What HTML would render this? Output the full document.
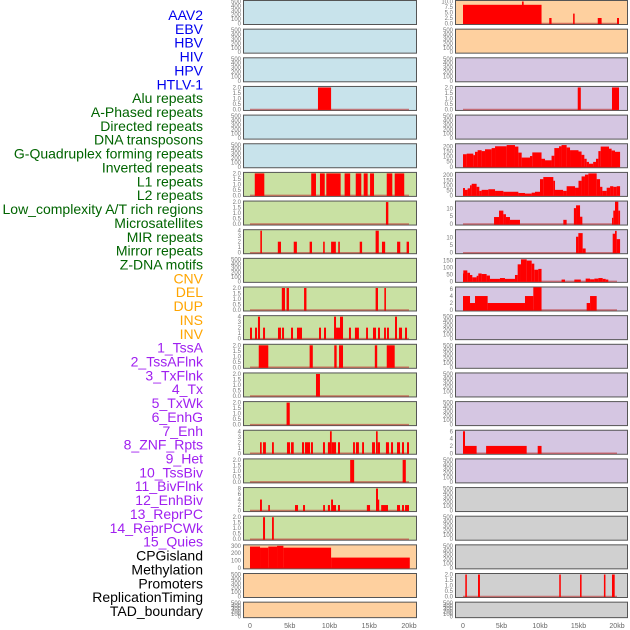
<!DOCTYPE html>
<html><head><meta charset="utf-8"><style>
html,body{margin:0;padding:0;background:#fff;}
svg{display:block;}
.lab{font-family:"Liberation Sans",sans-serif;font-size:14px;}
.tk{font-family:"Liberation Sans",sans-serif;font-size:6px;fill:#777;}
.xt{font-family:"Liberation Sans",sans-serif;font-size:7px;fill:#666;}
</style></head><body>
<svg id="chart" width="630" height="630" viewBox="0 0 630 630"></svg>
<script>
// ---------- labels ----------
const trackLabels = ["AAV2","EBV","HBV","HIV","HPV","HTLV-1","Alu repeats","A-Phased repeats","Directed repeats","DNA transposons","G-Quadruplex forming repeats","Inverted repeats","L1 repeats","L2 repeats","Low_complexity A/T rich regions","Microsatellites","MIR repeats","Mirror repeats","Z-DNA motifs","CNV","DEL","DUP","INS","INV","1_TssA","2_TssAFlnk","3_TxFlnk","4_Tx","5_TxWk","6_EnhG","7_Enh","8_ZNF_Rpts","9_Het","10_TssBiv","11_BivFlnk","12_EnhBiv","13_ReprPC","14_ReprPCWk","15_Quies","CPGisland","Methylation","Promoters","ReplicationTiming","TAD_boundary"];
const labelColors = ["#0000ee","#0000ee","#0000ee","#0000ee","#0000ee","#0000ee","#006400","#006400","#006400","#006400","#006400","#006400","#006400","#006400","#006400","#006400","#006400","#006400","#006400","#ffa500","#ffa500","#ffa500","#ffa500","#ffa500","#a020f0","#a020f0","#a020f0","#a020f0","#a020f0","#a020f0","#a020f0","#a020f0","#a020f0","#a020f0","#a020f0","#a020f0","#a020f0","#a020f0","#a020f0","#000","#000","#000","#000","#000"];
const xTickValues = [0,5,10,15,20];
const xTickLabels = ["0","5kb","10kb","15kb","20kb"];

// ---------- tick sets ----------
const T500 = [0,100,200,300,400,500], T500L = ["0","100","200","300","400","500"];
const T2 = [0,0.5,1,1.5,2], T2L = ["0.0","0.5","1.0","1.5","2.0"];
const T4 = [0,1,2,3,4], T4L = ["0","1","2","3","4"];
const T8 = [0,2,4,6,8], T8L = ["0","2","4","6","8"];
const T6 = [0,2,4,6], T6L = ["0","2","4","6"];
const T300 = [0,100,200,300], T300L = ["0","100","200","300"];
const T10 = [0,2.5,5,7.5,10], T10L = ["0.0","2.5","5.0","7.5","10.0"];
const T200 = [0,50,100,150,200], T200L = ["0","50","100","150","200"];
const T150 = [0,50,100,150], T150L = ["0","50","100","150"];
const T10b = [0,5,10], T10bL = ["0","5","10"];

// ---------- left column data (bars: [startKb, endKb, value]) ----------
const L3_bars = [[8.55,10.2,2]];
const L6_bars = [[0.6,1.8,2],[7.7,8.3,2],[8.8,9.4,2],[9.6,11.4,2],[11.9,12.6,2],[13.3,14.0,2],[14.3,14.8,2],[15.1,15.6,2],[17.2,17.9,2],[18.2,19.4,2]];
const L7_bars = [[17.1,17.4,2]];
const L8_bars = [[1.3,1.5,4],[3.5,3.9,2],[5.5,5.9,2],[7.5,7.8,2],[9.2,9.4,2],[10.2,10.8,2],[11.1,11.3,2],[13.8,14.1,2],[15.8,16.2,4],[16.6,17.0,2],[18.5,18.9,2],[19.7,20.0,2]];
const L10_bars = [[4.0,4.4,2],[4.6,4.9,2],[6.8,7.1,2],[15.8,16.1,2],[16.9,17.1,2]];
const L11_bars = [[0,0.25,2],[0.63,0.88,2],[1.0,1.26,4],[1.64,1.89,2],[3.52,3.9,2],[4.03,4.28,2],[5.16,5.41,2],[5.91,6.54,2],[8.68,8.93,2],[9.31,9.56,2],[10.57,10.82,4],[10.82,11.32,2],[11.32,11.7,4],[12.45,12.7,2],[13.2,13.7,2],[14.6,14.84,2],[15.47,15.85,2],[16.1,16.35,2],[16.86,17.1,2],[17.23,17.48,2],[18.24,18.49,4],[18.74,19.12,2],[19.5,19.75,2]];
const L12_bars = [[1.1,2.3,2],[7.5,7.9,2],[10.6,10.9,2],[11.2,11.7,2],[15.7,16.0,2],[17.2,18.2,2]];
const L13_bars = [[8.3,8.8,2]];
const L14_bars = [[4.6,5.0,2]];
const L15_bars = [[1.26,1.47,2],[1.64,2.0,2],[2.77,3.0,2],[4.65,5.03,2],[5.16,5.5,2],[6.54,6.8,2],[6.92,7.55,2],[7.67,7.92,2],[9.18,9.43,2],[9.8,10.06,2],[10.06,10.28,4],[10.28,10.82,2],[11.07,11.32,2],[12.96,13.2,2],[13.33,13.7,2],[14.1,14.34,2],[15.35,15.72,2],[15.85,16.06,4],[16.06,16.35,2],[17.1,17.48,2],[17.74,17.99,2],[18.49,18.87,2],[19.12,19.37,2],[19.75,20.0,2]];
const L16_bars = [[12.6,13.1,2],[19.2,19.6,2]];
const L17_bars = [[1.26,1.5,4],[2.3,2.5,2],[5.66,6.04,2],[6.67,6.92,2],[9.2,9.43,2],[9.8,10.06,2],[10.2,10.44,4],[10.44,10.82,2],[11.07,11.32,2],[14.7,15.1,2],[15.85,16.1,8],[16.1,16.23,4],[16.5,17.36,2],[18.49,18.87,2],[19.12,19.37,2],[19.5,20.0,2]];
const L18_bars = [[1.64,1.89,2],[2.77,3.0,2]];
const L19_bars = [[0,1.26,290],[1.26,2.3,275],[2.3,3.4,290],[3.4,4.2,300],[4.2,10.2,275],[10.2,20.1,140]];

// ---------- right column data ----------
const R0_bars = [[0,10.2,8.5],[7.66,7.88,10],[11.2,11.5,2.5],[14.3,14.5,4.5],[17.5,18.0,2.5],[20.0,20.26,2.5]];
const R3_bars = [[14.9,15.3,2],[19.35,20.26,2]];
const R5_starts = [0,0.48,1.34,1.56,1.9,2.42,2.86,3.72,4.16,5.67,6.75,7.19,7.62,8.7,9.0,10.2,10.65,11.5,11.86,12.47,12.8,13.46,13.9,15.0,15.4,15.76,16.06,16.36,16.9,17.27,17.58,17.88,18.96,19.3,19.74];
const R5_values = [124,130,115,148,164,155,173,185,203,215,200,140,91,106,142,79,64,109,185,203,215,191,164,151,118,79,48,30,48,79,155,200,179,161,148];
const R5_end = 20.4;
const R6_starts = [0,0.26,0.6,0.91,1.13,1.77,2.12,2.42,3.29,4.16,5.24,7.19,8.05,8.92,9.35,10.0,10.43,11.73,11.95,13.0,13.46,14.55,15.0,15.4,15.84,16.28,17.36,17.8,18.1,18.66,19.1,19.52,19.96];
const R6_values = [73,55,70,100,115,85,45,55,61,45,36,24,18,27,36,161,182,145,55,45,91,76,145,188,206,218,161,85,45,76,91,85,91];
const R6_end = 20.4;
const R7_bars = [[4.03,4.68,4.5],[4.68,5.24,8.6],[5.24,5.58,6.3],[5.58,6.1,4.5],[6.1,7.4,2.7],[13.03,13.46,2.7],[14.4,14.68,10.2],[14.68,15.2,12],[15.2,15.5,4.7],[19.35,19.52,4],[19.52,19.74,8.6],[19.74,20.17,14.3],[20.17,20.4,8.6]];
const R8_bars = [[14.68,14.98,10.6],[14.98,15.54,13],[15.54,15.93,2.8],[19.44,19.74,12.6],[19.74,19.96,14.5],[19.96,20.4,9]];
const R9_starts = [0,0.04,0.56,0.91,1.21,1.77,1.99,2.42,3.07,3.5,4.8,5.45,6.75,7.1,7.53,8.27,8.92,9.26,9.78,12.8,14.46,15.93,16.5,17.06,17.58,18.14,18.53];
const R9_values = [57,79,62,46,29,40,57,53,42,18,24,18,46,123,159,150,128,84,90,13,13,20,15,20,24,18,13];
const R9_ends = [0.04,0.56,0.91,1.21,1.77,1.99,2.42,3.07,3.5,4.8,5.45,6.75,7.1,7.53,8.27,8.92,9.26,9.78,10.2,13.25,15.3,16.5,17.06,17.58,18.14,18.53,18.87];
const R10_bars = [[0,0.91,4],[0.91,1.56,2],[1.56,3.2,4],[3.2,8.05,2],[8.05,9.13,4],[9.13,10.2,6.5],[16.06,16.5,2],[16.5,17.36,4]];
const R15_bars = [[0,0.26,6],[0.26,1.77,2],[3.0,8.27,2],[9.7,10.2,2]];
const R20_bars = [[0.3,0.5,2],[1.95,2.2,2],[12.5,12.7,2],[15.2,15.4,2],[18.3,18.5,2],[19.35,19.7,2]];

// convert step series to bars
function steps(starts, vals, endOrEnds){
  return starts.map((s,i)=>[s, Array.isArray(endOrEnds)?endOrEnds[i]:(i+1<starts.length?starts[i+1]:endOrEnds), vals[i]]);
}

const BLUE="#c8e3eb", GREEN="#c9e1a3", ORANGE="#fed09f", LAV="#d5c6e2", GRAY="#d0d0d0";
// panel specs: [bg, ticks, tickLabels, ymax, bars]
const leftPanels = [
 [BLUE,T500,T500L,500,null],[BLUE,T500,T500L,500,null],[BLUE,T500,T500L,500,null],
 [BLUE,T2,T2L,2,L3_bars],[BLUE,T500,T500L,500,null],[BLUE,T500,T500L,500,null],
 [GREEN,T2,T2L,2,L6_bars],[GREEN,T2,T2L,2,L7_bars],[GREEN,T4,T4L,4,L8_bars],
 [GREEN,T500,T500L,500,null],[GREEN,T2,T2L,2,L10_bars],[GREEN,T4,T4L,4,L11_bars],
 [GREEN,T2,T2L,2,L12_bars],[GREEN,T2,T2L,2,L13_bars],[GREEN,T2,T2L,2,L14_bars],
 [GREEN,T4,T4L,4,L15_bars],[GREEN,T2,T2L,2,L16_bars],[GREEN,T8,T8L,8,L17_bars],
 [GREEN,T2,T2L,2,L18_bars],[ORANGE,T300,T300L,300,L19_bars],[ORANGE,T500,T500L,500,null],[ORANGE,T500,T500L,500,null]
];
const rightPanels = [
 [ORANGE,T10,T10L,10,R0_bars],[ORANGE,T500,T500L,500,null],[LAV,T500,T500L,500,null],
 [LAV,T2,T2L,2,R3_bars],[LAV,T500,T500L,500,null],[LAV,T200,T200L,218,steps(R5_starts,R5_values,R5_end)],
 [LAV,T200,T200L,218,steps(R6_starts,R6_values,R6_end)],[LAV,T10b,T10bL,14.1,R7_bars],[LAV,T10b,T10bL,14.6,R8_bars],
 [LAV,T150,T150L,159,steps(R9_starts,R9_values,R9_ends)],[LAV,T6,T6L,6.3,R10_bars],[LAV,T500,T500L,500,null],
 [LAV,T500,T500L,500,null],[LAV,T500,T500L,500,null],[LAV,T500,T500L,500,null],
 [LAV,T6,T6L,6,R15_bars],[LAV,T500,T500L,500,null],[GRAY,T500,T500L,500,null],
 [GRAY,T500,T500L,500,null],[GRAY,T500,T500L,500,null],[GRAY,T2,T2L,2,R20_bars],[GRAY,T500,T500L,500,null]
];

const NS="http://www.w3.org/2000/svg";
const svg=document.getElementById('chart');
function mk(tag,attrs,parent){const e=document.createElementNS(NS,tag);for(const k in attrs)e.setAttribute(k,attrs[k]);(parent||svg).appendChild(e);return e;}

// labels
trackLabels.forEach((t,i)=>{
  const e=mk('text',{x:203,y:20+i*13.86,'text-anchor':'end',class:'lab',fill:labelColors[i]});
  e.textContent=t;
  
  
});

const cols=[
 {x0:243,x1:416,zero:250,scale:7.95,panels:leftPanels,name:'left'},
 {x0:455,x1:627,zero:463,scale:7.7,panels:rightPanels,name:'right'}
];
const ROW=28.65;
cols.forEach(c=>{
  const xs=kb=>c.zero+kb*c.scale;
  c.panels.forEach((p,r)=>{
    const top=0.5+r*ROW, h=(r===21?15.5:24);
    const g=mk('g',{});
    
    
    const rect=mk('rect',{x:c.x0+0.5,y:top,width:c.x1-c.x0,height:h,fill:p[0],stroke:'#555','stroke-width':1},g);
    
    
    const ymax=p[3];
    const ys=v=>top+h-1-v/ymax*(h-2);
    p[1].forEach((tv,i)=>{
      const tt=mk('text',{x:c.x0-2,y:ys(tv)+2,'text-anchor':'end',class:'tk'},g);
      tt.textContent=p[2][i];
      
      
    });
    if(p[4]){
      const bl=mk('line',{x1:xs(0),x2:xs(20),y1:ys(0),y2:ys(0),stroke:'rgba(190,50,50,0.6)','stroke-width':1.5},g);
      
      
      p[4].forEach(b=>{
        const x=xs(b[0]), w=Math.max(1.2,xs(b[1])-xs(b[0]));
        const y=ys(b[2]);
        const br=mk('rect',{x:x,y:y,width:w,height:ys(0)-y+0.5,fill:'#ff0000'},g);
        
        
      });
    }
  });
  xTickValues.forEach((v,i)=>{
    const t=mk('text',{x:xs(v),y:628,'text-anchor':'middle',class:'xt'});
    t.textContent=xTickLabels[i];
    
    
  });
});
</script>
</body></html>
